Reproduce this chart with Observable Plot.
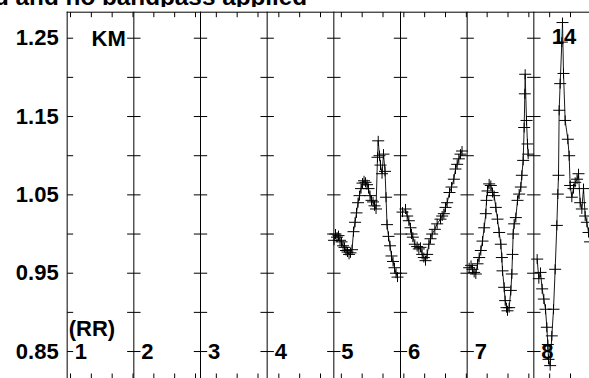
<!DOCTYPE html>
<html>
<head>
<meta charset="utf-8">
<script src="https://cdn.jsdelivr.net/npm/d3@7"></script>
<script src="https://cdn.jsdelivr.net/npm/@observablehq/plot@0.6"></script>
<style>
html, body { margin: 0; padding: 0; background: #fff; overflow: hidden; }
#title {
  height: 21.6px; margin-top: -14.6px; overflow: hidden; white-space: nowrap;
  font: bold 24.3px "Liberation Sans", Arial, sans-serif; line-height: 24.3px;
  text-indent: -6px; color: #000;
}
</style>
</head>
<body>
<div id="title">d and no bandpass applied</div>
<div id="chart"></div>
<script>
// ---- data (x in trace-column units, y in KM) ----
const columns = [1, 2, 3, 4, 5, 6, 7, 8];
const columnLabels = ["1", "2", "3", "4", "5", "6", "7", "8"];
const yTickLabels = [0.85, 0.95, 1.05, 1.15, 1.25];
const crossLevels = [0.85, 0.90, 0.95, 1.00, 1.05, 1.10, 1.15, 1.20, 1.25];

const trace5 = [
  [5.003,0.992],[5.025,1.000],[5.048,0.996],[5.070,0.998],[5.093,0.992],[5.115,0.990],
  [5.138,0.985],[5.160,0.983],[5.183,0.979],[5.205,0.977],[5.228,0.974],[5.250,0.976],
  [5.273,0.980],[5.295,1.003],[5.318,1.015],[5.340,1.027],[5.363,1.040],[5.385,1.049],
  [5.408,1.058],[5.430,1.065],[5.453,1.068],[5.475,1.066],[5.498,1.063],[5.520,1.058],
  [5.543,1.049],[5.565,1.043],[5.588,1.041],[5.610,1.036],[5.633,1.032],[5.655,1.098],
  [5.666,1.119],[5.685,1.100],[5.700,1.088],[5.723,1.077],[5.745,1.102],[5.768,1.080],
  [5.783,1.047],[5.798,1.012],[5.820,0.997],[5.843,0.985],[5.865,0.972],[5.888,0.965],
  [5.910,0.957],[5.933,0.950],[5.955,0.945]
];
const trace6 = [
  [6.030,1.028],[6.075,1.032],[6.100,1.023],[6.125,1.017],[6.150,1.008],[6.165,1.000],
  [6.185,0.996],[6.215,0.987],[6.250,0.984],[6.275,0.981],[6.300,0.983],[6.325,0.974],
  [6.350,0.970],[6.375,0.966],[6.400,0.974],[6.425,0.987],[6.450,0.994],[6.475,1.000],
  [6.515,1.006],[6.550,1.013],[6.600,1.019],[6.625,1.023],[6.650,1.026],[6.675,1.034],
  [6.700,1.040],[6.735,1.053],[6.765,1.060],[6.800,1.070],[6.825,1.083],[6.850,1.089],
  [6.875,1.096],[6.900,1.102],[6.923,1.106]
];
const trace7 = [
  [7.030,0.957],[7.058,0.960],[7.080,0.955],[7.105,0.951],[7.130,0.949],[7.155,0.962],
  [7.180,0.970],[7.205,0.979],[7.230,0.991],[7.255,1.008],[7.280,1.026],[7.290,1.043],
  [7.305,1.055],[7.330,1.064],[7.355,1.062],[7.380,1.053],[7.405,1.049],[7.430,1.034],
  [7.455,1.019],[7.480,1.002],[7.505,0.987],[7.520,0.970],[7.530,0.953],[7.555,0.932],
  [7.570,0.915],[7.590,0.906],[7.605,0.902],[7.630,0.906],[7.655,0.928],[7.670,0.949],
  [7.680,0.974],[7.690,1.000],[7.705,1.013],[7.730,1.021],[7.755,1.043],[7.780,1.051],
  [7.805,1.060],[7.820,1.075],[7.840,1.094],[7.855,1.136],[7.865,1.179],[7.870,1.204],
  [7.890,1.145],[7.905,1.115],[7.915,1.102]
];
const trace8 = [
  [8.050,0.968],[8.075,0.943],[8.100,0.951],[8.125,0.930],[8.150,0.917],[8.175,0.904],
  [8.195,0.881],[8.210,0.859],[8.220,0.840],[8.245,0.832],[8.270,0.870],[8.295,0.904],
  [8.320,0.955],[8.345,1.011],[8.360,1.051],[8.370,1.075],[8.380,1.158],[8.395,1.192],
  [8.420,1.245],[8.430,1.270],[8.445,1.205],[8.470,1.145],[8.510,1.121],[8.530,1.100],
  [8.545,1.062],[8.570,1.047],[8.595,1.058],[8.620,1.066],[8.648,1.070],[8.670,1.077],
  [8.695,1.040],[8.720,1.032],[8.745,1.058],[8.770,1.023],[8.795,1.015],[8.820,1.002],
  [8.843,0.990]
];

// ---- build ----
const traces = {5: trace5, 6: trace6, 7: trace7, 8: trace8};
const rows = Object.entries(traces).flatMap(([k, arr]) => arr.map(([x, y]) => ({trace: k, x, y})));
const levelTicks = columns.flatMap(c => crossLevels.map(v => ({c, v})));

const yTop = 1.2832, yBottom = 0.8143;
const xDomain = [1, 8.835];
const axisTicks = d3.range(1.05, 8.9, 0.3125);

const crossSym = {draw(ctx) { ctx.moveTo(-6, 0); ctx.lineTo(6, 0); ctx.moveTo(0, -5); ctx.lineTo(0, 5); }};
const hTick = {draw(ctx) { ctx.moveTo(-6.7, 0); ctx.lineTo(6.7, 0); }};
const hTickRight = {draw(ctx) { ctx.moveTo(0, 0); ctx.lineTo(6, 0); }};
const vDown = {draw(ctx) { ctx.moveTo(0, 0); ctx.lineTo(0, 5); }};
const vUp = {draw(ctx) { ctx.moveTo(0, 0); ctx.lineTo(0, -6); }};

const font = '"Liberation Sans", Arial, Helvetica, sans-serif';

const chart = Plot.plot({
  width: 589,
  height: 380,
  marginTop: 4.7,
  marginBottom: 8,
  marginLeft: 66.667,
  marginRight: 0,
  x: {domain: xDomain, axis: null},
  y: {domain: [yBottom, yTop], axis: null},
  style: {fontFamily: font, background: "#fff", color: "#000", overflow: "visible"},
  marks: [
    Plot.ruleY([yTop], {stroke: "#000", strokeWidth: 1}),
    Plot.ruleY([yBottom], {stroke: "#000", strokeWidth: 1}),
    Plot.ruleX(columns, {stroke: "#000", strokeWidth: 1}),
    Plot.dot(levelTicks.filter(d => d.c !== 1), {x: "c", y: "v", symbol: hTick, fill: "none", stroke: "#000", strokeWidth: 1}),
    Plot.dot(levelTicks.filter(d => d.c === 1), {x: "c", y: "v", symbol: hTickRight, fill: "none", stroke: "#000", strokeWidth: 1}),
    Plot.dot(axisTicks, {x: d => d, y: () => yTop, symbol: vDown, fill: "none", stroke: "#000", strokeWidth: 1}),
    Plot.dot(axisTicks, {x: d => d, y: () => yBottom, symbol: vUp, fill: "none", stroke: "#000", strokeWidth: 1}),
    Plot.line(rows, {x: "x", y: "y", z: "trace", stroke: "#1a1a1a", strokeWidth: 1, clip: true}),
    Plot.dot(rows, {x: "x", y: "y", symbol: crossSym, fill: "none", stroke: "#000", strokeWidth: 1, clip: true}),
    Plot.text(yTickLabels, {x: 1, y: d => d, text: d => d.toFixed(2), textAnchor: "end", dx: -8.5,
      fontSize: 22, fontWeight: "bold", fill: "#000"}),
    Plot.text(columns, {x: d => d, y: 0.85, text: (d, i) => columnLabels[i], textAnchor: "start", dx: 7.5,
      fontSize: 22, fontWeight: "bold", fill: "#000"}),
    Plot.text(["KM"], {x: 2, y: 1.25, text: d => d, textAnchor: "end", dx: -8, dy: 1,
      fontSize: 22, fontWeight: "bold", fill: "#000"}),
    Plot.text(["(RR)"], {x: 1, y: 0.85, text: d => d, textAnchor: "start", dx: 1.5, dy: -22.5,
      fontSize: 22, fontWeight: "bold", fill: "#000"}),
    Plot.text(["14"], {x: 8, y: 1.25, text: d => d, textAnchor: "start", dx: 18, dy: -1,
      fontSize: 22, fontWeight: "bold", fill: "#000"})
  ]
});
document.getElementById("chart").appendChild(chart);
</script>
</body>
</html>
